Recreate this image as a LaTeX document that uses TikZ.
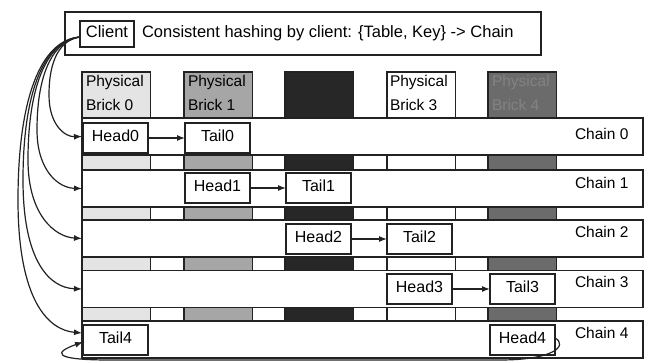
\documentclass[tikz,border=0pt]{standalone}
\usepackage{fontspec}
\setmainfont{Liberation Sans}
\usetikzlibrary{arrows.meta}
\definecolor{ink}{HTML}{222222}
\definecolor{brickA}{HTML}{E4E4E4}
\definecolor{brickB}{HTML}{A6A6A6}
\definecolor{brickC}{HTML}{272727}
\definecolor{brickE}{HTML}{6B6B6B}
\definecolor{brickEtext}{HTML}{838383}
\begin{document}
\begin{tikzpicture}[x=1pt,y=-1pt,
  every node/.style={inner sep=0pt, outer sep=0pt},
  frame/.style={draw=ink, line width=1.3pt},
  brickcol/.style={frame, minimum width=68.5pt, minimum height=286pt, anchor=north west},
  bricktext/.style={anchor=north west, align=left, font=\fontsize{15.5}{24}\selectfont},
  chainrow/.style={frame, fill=white, minimum width=561pt, minimum height=37pt, anchor=north west},
  chainlabel/.style={anchor=base west, font=\fontsize{15.5}{19}\selectfont},
  cell/.style={frame, fill=white, minimum width=65pt, minimum height=30pt, anchor=north west,
    font=\fontsize{16}{19}\selectfont, text height=11.5pt, text depth=4.5pt},
  link/.style={draw=ink, line width=1.2pt, -{Latex[length=8pt,width=6pt]}},
]
\useasboundingbox (0,0) rectangle (651,363);

% physical bricks: tall columns that show between the chain rows
\node[brickcol, fill=brickA] (b0) at (82,72) {};
\node[brickcol, fill=brickB] (b1) at (184,72) {};
\node[brickcol, fill=brickC] (b2) at (285,72) {};
\node[brickcol, fill=white]  (b3) at (387,72) {};
\node[brickcol, fill=brickE] (b4) at (488,72) {};
\node[bricktext] (l0) at (86,75.5) {Physical\\Brick 0};
\node[bricktext] (l1) at (188,75.5) {Physical\\Brick 1};
\node[bricktext] (l3) at (390,75.5) {Physical\\Brick 3};
\node[bricktext, text=brickEtext] (l4) at (492,75.5) {Physical\\Brick 4};

% chains
\node[chainrow] (c0) at (82,118) {};
\node[chainrow] (c1) at (82,170) {};
\node[chainrow] (c2) at (82,220) {};
\node[chainrow] (c3) at (82,270.5) {};
\node[chainrow] (c4) at (82,321) {};
\node[chainlabel] (n0) at (575,140) {Chain 0};
\node[chainlabel] (n1) at (575,189) {Chain 1};
\node[chainlabel] (n2) at (575,238) {Chain 2};
\node[chainlabel] (n3) at (575,288) {Chain 3};
\node[chainlabel] (n4) at (575,339) {Chain 4};

% heads and tails
\node[cell] (h0) at (83,123) {Head0};
\node[cell] (t0) at (185,123) {Tail0};
\node[cell] (h1) at (185,173) {Head1};
\node[cell] (t1) at (286,173) {Tail1};
\node[cell] (h2) at (286,224) {Head2};
\node[cell] (t2) at (387,224) {Tail2};
\node[cell] (h3) at (387,274) {Head3};
\node[cell] (t3) at (490,274) {Tail3};
\node[cell] (t4) at (83,325) {Tail4};
\node[cell] (h4) at (490,325) {Head4};
\draw[link] (h0) -- (t0);
\draw[link] (h1) -- (t1);
\draw[link] (h2) -- (t2);
\draw[link] (h3) -- (t3);
% chain 4 wraps around from the last brick to the first
\draw[link] ([yshift=2pt]h4.east) .. controls (568,345) and (555,360) .. (500,360)
  -- (110,360) .. controls (50,360) and (55,352) .. ([yshift=-2pt]t4.west);

% client and hashing rule
\node[frame, fill=white, minimum width=476pt, minimum height=43pt, anchor=north west] (title) at (65,12) {};
\node[frame, minimum width=54pt, minimum height=26pt, font=\fontsize{16.5}{20}\selectfont,
  text height=12pt, text depth=5pt] (client) at (107,34) {Client};
\node[anchor=base west, font=\fontsize{16.5}{20}\selectfont] (rule) at (142,37.5)
  {Consistent hashing by client: \{Table, Key\} -> Chain};

% client routes to every chain
\draw[link] ([yshift=-3pt]client.west) .. controls (60,40) and (49,60) .. (49,95)
  .. controls (49,125) and (65,137) .. (c0.west);
\draw[link] ([yshift=-3pt]client.west) .. controls (55,40) and (37,70) .. (37,130)
  .. controls (37,170) and (58,188) .. (c1.west);
\draw[link] ([yshift=-3pt]client.west) .. controls (50,40) and (28,80) .. (28,160)
  .. controls (28,215) and (55,237) .. (c2.west);
\draw[link] ([yshift=-3pt]client.west) .. controls (45,40) and (23,90) .. (23,180)
  .. controls (23,262) and (50,288) .. (c3.west);
\draw[link] ([yshift=-3pt]client.west) .. controls (40,40) and (18,100) .. (18,200)
  .. controls (18,300) and (48,330) .. ([yshift=6.5pt]c4.west);
\end{tikzpicture}
\end{document}
